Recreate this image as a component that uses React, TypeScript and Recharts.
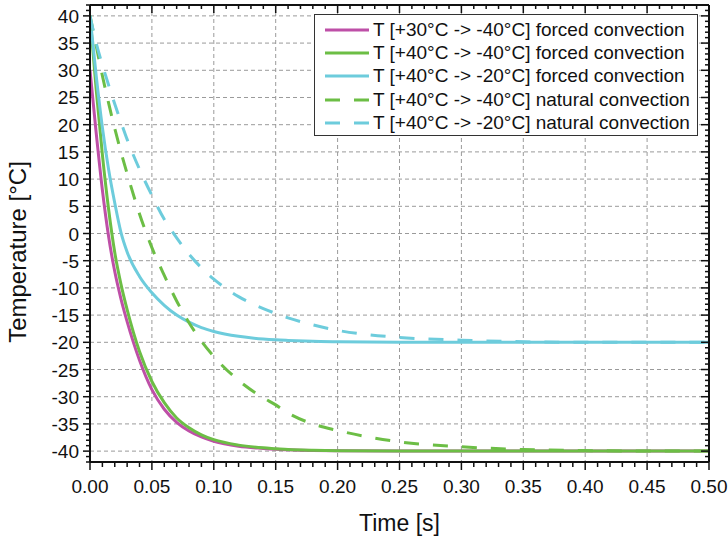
import { LineChart, Line, XAxis, YAxis, CartesianGrid, Legend } from 'recharts';

// time samples [s]
const times = [0, 0.005, 0.01, 0.015, 0.02, 0.025, 0.03, 0.04, 0.05, 0.06, 0.07, 0.08, 0.09, 0.1, 0.12, 0.14, 0.15, 0.16, 0.18, 0.2, 0.25, 0.3, 0.35, 0.4, 0.45, 0.5];

// temperatures [°C]
const forced30to40 = [30, 18.5, 8, -0.5, -7, -12, -16.2, -23.3, -28.7, -32.3, -34.7, -36.3, -37.4, -38.2, -39.1, -39.5, -39.65, -39.75, -39.88, -39.94, -40, -40, -40, -40, -40, -40];
const forced40to40 = [40, 26.5, 14.5, 4.5, -3.5, -9.3, -14, -21.7, -27.2, -31.1, -33.9, -35.7, -37, -37.9, -38.9, -39.4, -39.55, -39.7, -39.85, -39.93, -39.98, -40, -40, -40, -40, -40];
const forced40to20 = [40, 29, 19.5, 11.8, 5.6, 0.2, -3.4, -7.9, -10.9, -13.2, -15, -16.3, -17.3, -18, -18.9, -19.4, -19.55, -19.65, -19.8, -19.9, -19.97, -20, -20, -20, -20, -20];
const natural40to40 = [40, 34.5, 29, 24, 19.3, 15, 11, 3.6, -2.6, -7.7, -12.4, -16.4, -19.8, -22.6, -27, -30.2, -31.5, -33, -35, -36.2, -38.3, -39.2, -39.7, -39.9, -40, -40];
const natural40to20 = [40, 35, 31, 27.3, 23.8, 20.5, 17.3, 11.8, 7, 2.6, -0.8, -3.8, -6.3, -8.4, -11.6, -13.8, -14.7, -15.5, -16.8, -17.8, -19.1, -19.6, -19.9, -20, -20, -20];

const xMajorTicks = [0, 0.05, 0.1, 0.15, 0.2, 0.25, 0.3, 0.35, 0.4, 0.45, 0.5];
const yMajorTicks = [-40, -35, -30, -25, -20, -15, -10, -5, 0, 5, 10, 15, 20, 25, 30, 35, 40];

const series = [
  { key: 'f30', name: 'T [+30°C -> -40°C] forced convection', color: '#BE4FA7', dash: undefined, values: forced30to40 },
  { key: 'f40', name: 'T [+40°C -> -40°C] forced convection', color: '#6CBE45', dash: undefined, values: forced40to40 },
  { key: 'f20', name: 'T [+40°C -> -20°C] forced convection', color: '#6DCCDC', dash: undefined, values: forced40to20 },
  { key: 'n40', name: 'T [+40°C -> -40°C] natural convection', color: '#6CBE45', dash: '15 14', values: natural40to40 },
  { key: 'n20', name: 'T [+40°C -> -20°C] natural convection', color: '#6DCCDC', dash: '15 14', values: natural40to20 },
];

const data = times.map((t, i) => {
  const row: Record<string, number> = { t };
  series.forEach((s) => {
    row[s.key] = s.values[i];
  });
  return row;
});

// minor ticks: 4 between each pair of major ticks
const xTicks: number[] = [];
for (let i = 0; i < xMajorTicks.length - 1; i++) {
  const step = (xMajorTicks[i + 1] - xMajorTicks[i]) / 5;
  for (let k = 0; k < 5; k++) xTicks.push(+(xMajorTicks[i] + k * step).toFixed(4));
}
xTicks.push(0.5);
const yTicks: number[] = [-42, -41];
for (let i = 0; i < yMajorTicks.length - 1; i++) {
  for (let k = 0; k < 5; k++) yTicks.push(yMajorTicks[i] + k);
}
yTicks.push(40, 41, 42);

const isMajorX = (v: number) => xMajorTicks.some((m) => Math.abs(m - v) < 1e-6);
const isMajorY = (v: number) => v % 5 === 0;

const FONT = '"Liberation Sans", Arial, sans-serif';
const INK = '#111';

const BottomTick = ({ x, y, payload }: any) => {
  const major = isMajorX(payload.value);
  return (
    <g>
      <line x1={x} x2={x} y1={y} y2={y + (major ? 8 : 5)} stroke={INK} strokeWidth={1.5} />
      {major && (
        <text x={x} y={y + 31} textAnchor="middle" fontSize={19} fill={INK} fontFamily={FONT}>
          {payload.value.toFixed(2)}
        </text>
      )}
    </g>
  );
};

const TopTick = ({ x, y, payload }: any) => {
  const major = isMajorX(payload.value);
  return <line x1={x} x2={x} y1={y} y2={y + (major ? 8 : 4)} stroke={INK} strokeWidth={1.5} />;
};

const LeftTick = ({ x, y, payload }: any) => {
  const v = payload.value;
  const major = isMajorY(v);
  return (
    <g>
      <line x1={x} x2={x - (major ? 7 : 4)} y1={y} y2={y} stroke={INK} strokeWidth={1.5} />
      {major && Math.abs(v) <= 40 && (
        <text x={x - 11} y={y + 7} textAnchor="end" fontSize={19} fill={INK} fontFamily={FONT}>
          {v}
        </text>
      )}
    </g>
  );
};

const RightTick = ({ x, y, payload }: any) => {
  const major = isMajorY(payload.value);
  return <line x1={x} x2={x - (major ? 8 : 4)} y1={y} y2={y} stroke={INK} strokeWidth={1.5} />;
};

function LegendBox() {
  return (
    <div
      style={{
        width: 382,
        height: 117,
        paddingTop: 3,
        border: '1px solid #333',
        background: '#fff',
        fontFamily: FONT,
        lineHeight: 'normal',
      }}
    >
      {series.map((s) => (
        <div key={s.key} style={{ display: 'flex', alignItems: 'center', height: 23.3 }}>
          <svg width={44} height={6} style={{ marginLeft: 10, marginRight: 4 }}>
            <line x1={0} x2={44} y1={3} y2={3} stroke={s.color} strokeWidth={3} strokeDasharray={s.dash} />
          </svg>
          <span style={{ fontSize: 19, color: INK, whiteSpace: 'nowrap' }}>{s.name}</span>
        </div>
      ))}
    </div>
  );
}

export default function App() {
  return (
    <div style={{ position: 'absolute', left: 0, top: 0, background: '#fff', fontFamily: FONT }}>
      <LineChart width={728} height={543} data={data} margin={{ top: 0, right: 0, bottom: 0, left: 0 }}>
        <CartesianGrid
          stroke="#9a9a9a"
          strokeDasharray="4 3"
          horizontalValues={yMajorTicks}
          verticalValues={xMajorTicks.slice(1, -1)}
        />
        <XAxis
          dataKey="t"
          type="number"
          domain={[0, 0.5]}
          allowDataOverflow
          ticks={xTicks}
          interval={0}
          height={81}
          tickSize={0}
          tickMargin={0}
          tickLine={false}
          tick={BottomTick}
          axisLine={{ stroke: INK, strokeWidth: 2 }}
          label={{
            content: ({ viewBox }: any) => (
              <text
                x={viewBox.x + viewBox.width / 2}
                y={viewBox.y + 69}
                textAnchor="middle"
                fontSize={23}
                fill={INK}
                fontFamily={FONT}
              >
                Time [s]
              </text>
            ),
          }}
        />
        <XAxis
          xAxisId="top"
          dataKey="t"
          orientation="top"
          type="number"
          domain={[0, 0.5]}
          allowDataOverflow
          ticks={xTicks}
          interval={0}
          height={5}
          tickSize={0}
          tickMargin={0}
          tickLine={false}
          tick={TopTick}
          axisLine={{ stroke: INK, strokeWidth: 2 }}
        />
        <YAxis
          type="number"
          domain={[-42, 42]}
          allowDataOverflow
          ticks={yTicks}
          interval={0}
          width={90}
          tickSize={0}
          tickMargin={0}
          tickLine={false}
          tick={LeftTick}
          axisLine={{ stroke: INK, strokeWidth: 2 }}
          label={{
            content: () => (
              <text
                x={26}
                y={252}
                transform="rotate(-90, 26, 252)"
                textAnchor="middle"
                fontSize={24}
                fill={INK}
                fontFamily={FONT}
              >
                Temperature [°C]
              </text>
            ),
          }}
        />
        <YAxis
          yAxisId="right"
          orientation="right"
          type="number"
          domain={[-42, 42]}
          allowDataOverflow
          ticks={yTicks}
          interval={0}
          width={19}
          tickSize={0}
          tickMargin={0}
          tickLine={false}
          tick={RightTick}
          axisLine={{ stroke: INK, strokeWidth: 2 }}
        />
        <Legend
          layout="vertical"
          align="center"
          verticalAlign="middle"
          wrapperStyle={{ top: 14, left: 314 }}
          content={() => <LegendBox />}
        />
        {series.map((s) => (
          <Line
            key={s.key}
            type="monotone"
            dataKey={s.key}
            name={s.name}
            stroke={s.color}
            strokeWidth={3}
            strokeDasharray={s.dash}
            dot={false}
            activeDot={false}
            isAnimationActive={false}
          />
        ))}
      </LineChart>
    </div>
  );
}
